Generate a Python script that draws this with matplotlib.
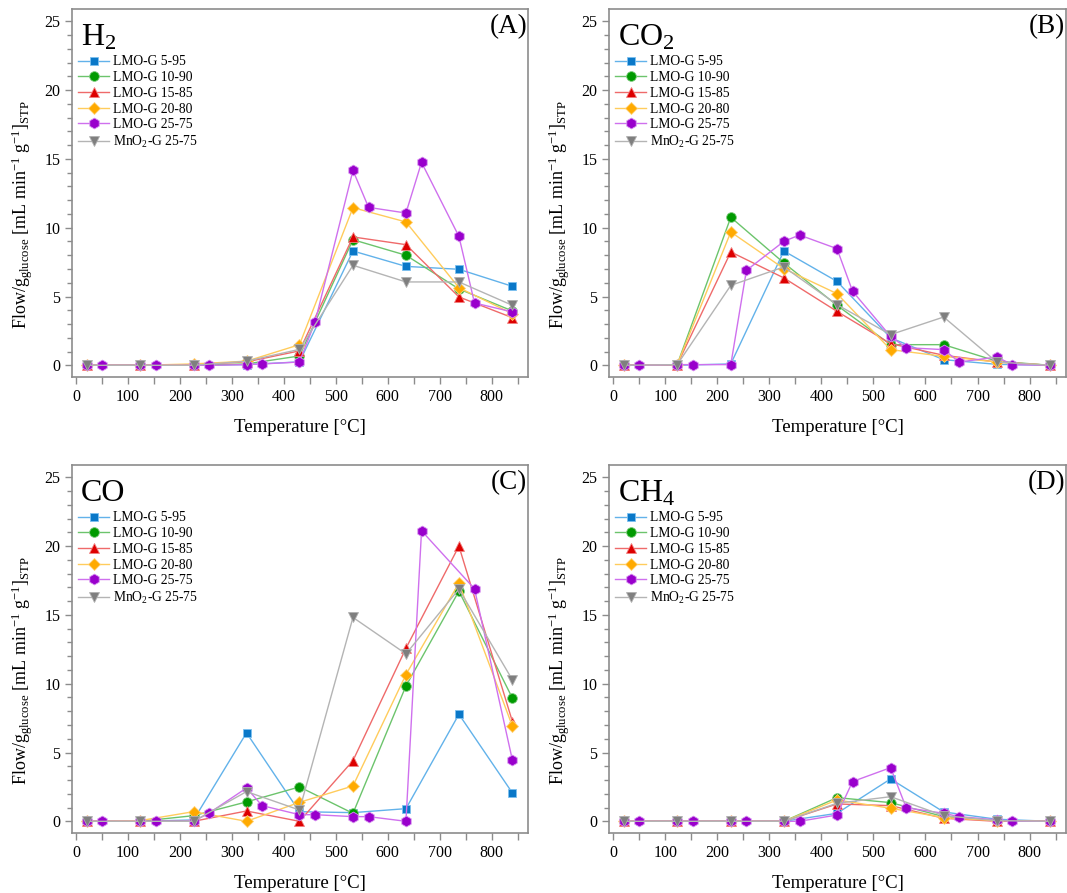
import matplotlib
matplotlib.use("Agg")
import matplotlib.pyplot as plt
from matplotlib.ticker import MultipleLocator

plt.rcParams['font.family'] = ['Liberation Serif', 'DejaVu Serif']
plt.rcParams['mathtext.fontset'] = 'custom'
plt.rcParams['mathtext.rm'] = 'Liberation Serif'
plt.rcParams['mathtext.it'] = 'Liberation Serif:italic'
plt.rcParams['mathtext.bf'] = 'Liberation Serif:bold'

# ---------------- data ----------------
T = [20, 123, 226, 328, 430, 533, 635, 737, 840]
T_p = [20, 50, 123, 153, 226, 256, 328, 358, 430, 460, 533, 563, 635, 665, 737, 767, 840]
T_p_C = [20, 50, 123, 153, 226, 256, 328, 358, 430, 460, 533, 563, 635, 665, 767, 840]

series_names = ["LMO-G 5-95", "LMO-G 10-90", "LMO-G 15-85", "LMO-G 20-80",
                "LMO-G 25-75", r"MnO$_2$-G 25-75"]

# H2 (A)
h2_5_95 = [0, 0, 0, 0.05, 0.25, 8.31, 7.19, 6.98, 5.74]
h2_10_90 = [0, 0, 0, 0.1, 0.68, 9.13, 8.0, 5.55, 3.95]
h2_15_85 = [0, 0, 0.05, 0.25, 1.05, 9.33, 8.77, 4.97, 3.46]
h2_20_80 = [0, 0, 0.1, 0.3, 1.5, 11.46, 10.42, 5.64, 3.75]
h2_25_75 = [0, 0, 0, 0, 0, 0, 0.05, 0.1, 0.24, 3.15, 14.17, 11.48, 11.07, 14.75, 9.37, 4.53, 3.88]
h2_mno2 = [0, 0, 0, 0.3, 1.16, 7.27, 6.06, 6.06, 4.36]

# CO2 (B)
co2_5_95 = [0, 0, 0.1, 8.31, 6.1, 2.0, 0.41, 0.07, 0]
co2_10_90 = [0, 0.05, 10.76, 7.44, 4.36, 1.5, 1.5, 0.3, 0]
co2_15_85 = [0, 0.05, 8.24, 6.35, 3.92, 1.57, 0.73, 0.24, 0]
co2_20_80 = [0, 0.05, 9.69, 7.03, 5.21, 1.14, 0.65, 0.24, 0]
co2_25_75 = [0, 0, 0.05, 0.05, 0.05, 6.9, 9.01, 9.47, 8.48, 5.38, 2.1, 1.28, 1.14, 0.24, 0.6, 0.05, 0]
co2_mno2 = [0, 0.05, 5.81, 7.15, 4.41, 2.23, 3.51, 0.24, 0]

# CO (C)
co_5_95 = [0, 0, 0.1, 6.43, 0.7, 0.63, 0.92, 7.78, 2.06]
co_10_90 = [0, 0, 0.41, 1.41, 2.5, 0.58, 9.84, 16.73, 8.95]
co_15_85 = [0, 0, 0, 0.75, 0, 4.41, 12.58, 20.0, 7.25]
co_20_80 = [0, 0.05, 0.7, 0, 1.38, 2.57, 10.67, 17.31, 6.91]
co_25_75 = [0, 0, 0, 0, 0, 0.6, 2.42, 1.14, 0.48, 0.48, 0.34, 0.34, 0, 21.12, 16.9, 4.44]
co_mno2 = [0, 0, 0, 2.16, 0.82, 14.82, 12.17, 16.88, 10.28]

# CH4 (D)
ch4_5_95 = [0, 0, 0, 0, 0.58, 3.08, 0.68, 0.15, 0]
ch4_10_90 = [0, 0, 0, 0, 1.72, 1.36, 0.34, 0.05, 0]
ch4_15_85 = [0, 0, 0, 0, 1.26, 1.14, 0.22, 0, 0]
ch4_20_80 = [0, 0, 0, 0, 1.55, 0.95, 0.27, 0.05, 0]
ch4_25_75 = [0, 0, 0, 0, 0, 0, 0, 0, 0.46, 2.89, 3.9, 0.99, 0.58, 0.34, 0.1, 0, 0]
ch4_mno2 = [0, 0, 0, 0, 1.31, 1.79, 0.41, 0.05, 0]

gas_labels = [r"H$_2$", r"CO$_2$", "CO", r"CH$_4$"]
panel_labels = ["(A)", "(B)", "(C)", "(D)"]
y_label = r"Flow/g$_{\mathrm{glucose}}$ [mL min$^{-1}$ g$^{-1}$]$_{\mathrm{STP}}$"
x_label = "Temperature [°C]"

# ---------------- styles ----------------
marker_colors = ['#0a78c8', '#009a00', '#dd0000', '#ffaa00', '#9900cc', '#7f7f7f']
line_colors = ['#62b2ea', '#6cc46c', '#ef6a6a', '#ffcc5c', '#cf70ee', '#b4b4b4']
edge_colors = ['#7cc0f0', '#80cc80', '#f28080', '#ffd27a', '#d690f0', '#b0b0b0']
markers = ['s', 'o', '^', 'D', 'h', 'v']
msizes = [6.0, 7.0, 7.5, 6.0, 7.8, 7.5]

panels = [
    ([T, T, T, T, T_p, T], [h2_5_95, h2_10_90, h2_15_85, h2_20_80, h2_25_75, h2_mno2]),
    ([T, T, T, T, T_p, T], [co2_5_95, co2_10_90, co2_15_85, co2_20_80, co2_25_75, co2_mno2]),
    ([T, T, T, T, T_p_C, T], [co_5_95, co_10_90, co_15_85, co_20_80, co_25_75, co_mno2]),
    ([T, T, T, T, T_p, T], [ch4_5_95, ch4_10_90, ch4_15_85, ch4_20_80, ch4_25_75, ch4_mno2]),
]

W, H = 1067, 893
fig = plt.figure(figsize=(W / 100, H / 100), dpi=100)

boxes = [
    (72, 9, 528, 377),
    (609, 9, 1066, 377),
    (72, 465, 528, 833),
    (609, 465, 1066, 833),
]
ylabel_x = [22, 559, 22, 559]

spine_col = '#8c8c8c'

for i, (xs_list, ys_list) in enumerate(panels):
    l, t, r, b = boxes[i]
    ax = fig.add_axes([l / W, 1 - b / H, (r - l) / W, (b - t) / H])
    for k in range(6):
        ax.plot(xs_list[k], ys_list[k], color=line_colors[k], lw=1.0,
                marker=markers[k], markersize=msizes[k],
                markerfacecolor=marker_colors[k], markeredgecolor=edge_colors[k],
                markeredgewidth=0.6, label=series_names[k], zorder=3 + k)
    ax.set_xlim(-8, 870)
    ax.set_ylim(-0.85, 25.9)
    ax.xaxis.set_major_locator(MultipleLocator(100))
    ax.xaxis.set_minor_locator(MultipleLocator(50))
    ax.yaxis.set_major_locator(MultipleLocator(5))
    ax.yaxis.set_minor_locator(MultipleLocator(1))
    for s in ax.spines.values():
        s.set_color(spine_col)
        s.set_linewidth(1.2)
    ax.tick_params(which='both', direction='out', colors=spine_col,
                   labelcolor='black', labelsize=11.5, top=False, right=False)
    ax.tick_params(which='major', length=5, width=1.0)
    ax.tick_params(which='minor', length=3.5, width=1.0)
    ax.tick_params(axis='x', which='minor', length=5)
    ax.set_xlabel(x_label, fontsize=13.5, labelpad=10)
    fig.text(ylabel_x[i] / W, 1 - ((t + b) / 2 + 22) / H, y_label,
             rotation=90, ha='center', va='center', fontsize=13)
    ax.text(0.019, 0.962, gas_labels[i], transform=ax.transAxes,
            fontsize=23, ha='left', va='top')
    ax.text(0.998, 0.985, panel_labels[i], transform=ax.transAxes,
            fontsize=19.5, ha='right', va='top')
    ax.legend(loc='upper left', bbox_to_anchor=(0.013, 0.874),
              frameon=False, fontsize=9.8, handlelength=2.3,
              handletextpad=0.3, labelspacing=0.2, borderaxespad=0.0,
              borderpad=0.0)

fig.savefig("out.png", dpi=100)
